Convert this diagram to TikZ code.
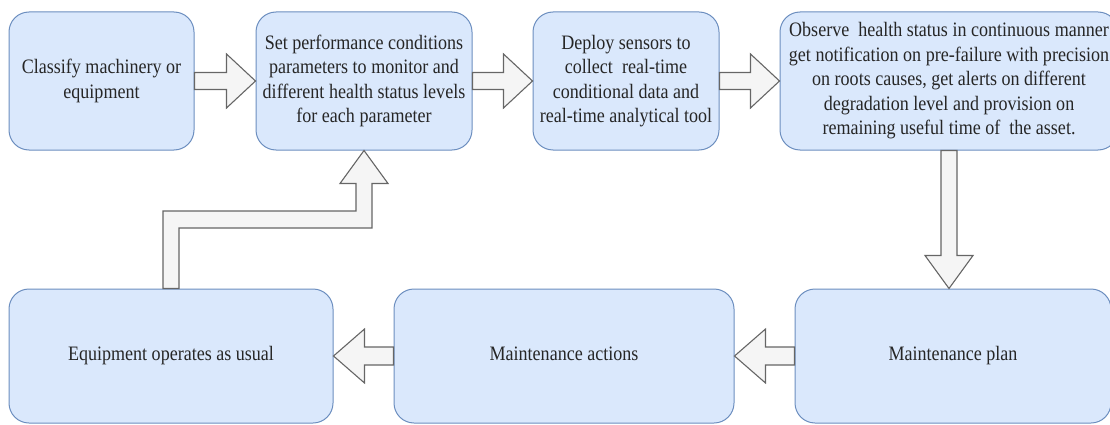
\documentclass[tikz,border=0pt]{standalone}
\usepackage{fontspec}
\setmainfont{Liberation Serif}
\usetikzlibrary{calc}
\definecolor{boxfill}{HTML}{DAE8FC}
\definecolor{boxline}{HTML}{6C8EBF}
\definecolor{arrfill}{HTML}{F5F5F5}
\definecolor{arrline}{HTML}{666666}
\definecolor{txt}{HTML}{262626}
% narrow, centred block of lines for the box labels
\newcommand{\narrowlines}[1]{\scalebox{0.88}[1]{\begin{tabular}{@{}c@{}}#1\end{tabular}}}
% block arrow pointing right, from the east side of #1 to the west side of #2
\newcommand{\rightblock}[2]{%
  \draw[blockarrow] ($(#1.east)+(0,-8.5)$) -- ($(#2.west)+(-29,-8.5)$)
    -- ($(#2.west)+(-29,-27)$) -- (#2.west) -- ($(#2.west)+(-29,27)$)
    -- ($(#2.west)+(-29,8.5)$) -- ($(#1.east)+(0,8.5)$) -- cycle;}
% block arrow pointing left, from the west side of #1 to the east side of #2
\newcommand{\leftblock}[2]{%
  \draw[blockarrow] ($(#1.west)+(0,-9)$) -- ($(#2.east)+(31,-9)$)
    -- ($(#2.east)+(31,-27)$) -- (#2.east) -- ($(#2.east)+(31,27)$)
    -- ($(#2.east)+(31,9)$) -- ($(#1.west)+(0,9)$) -- cycle;}
\begin{document}
\begin{tikzpicture}[x=1pt,y=-1pt,
  stage/.style={draw=boxline, fill=boxfill, line width=1pt, rounded corners=20pt,
    inner sep=0pt, align=center, text=txt,
    font=\fontsize{20.5}{24.5}\selectfont},
  blockarrow/.style={draw=arrline, fill=arrfill, line width=1.1pt, line join=miter}]
\useasboundingbox (0,0) rectangle (1110,425);
\clip (0,0) rectangle (1110,425);

% top row
\node[stage, minimum width=185pt, minimum height=138pt] (b1) at (101.5,81)
  {\narrowlines{Classify machinery or\\equipment}};
\node[stage, minimum width=216pt, minimum height=138pt] (b2) at (364,81)
  {\narrowlines{Set performance conditions\\parameters to monitor and\\different health status levels\\for each parameter}};
\node[stage, minimum width=186pt, minimum height=138pt] (b3) at (626,81)
  {\narrowlines{Deploy sensors to\\collect\ \ real-time\\conditional data and\\real-time analytical tool}};
\node[stage, minimum width=338pt, minimum height=138pt] (b4) at (949,81)
  {\narrowlines{Observe\ \ health status in continuous manner\\get notification on pre-failure with precision\\on roots causes, get alerts on different\\degradation level and provision on\\remaining useful time of\ \ the asset.}};

% bottom row
\node[stage, minimum width=316pt, minimum height=134pt] (b5) at (953,356)
  {\narrowlines{Maintenance plan}};
\node[stage, minimum width=340pt, minimum height=134pt] (b6) at (564,356)
  {\narrowlines{Maintenance actions}};
\node[stage, minimum width=324pt, minimum height=134pt] (b7) at (171,356)
  {\narrowlines{Equipment operates as usual}};

% flow along the top row
\rightblock{b1}{b2}
\rightblock{b2}{b3}
\rightblock{b3}{b4}

% down to the maintenance plan
\draw[blockarrow] ($(b4.south)+(-8,0)$) -- ($(b4.south |- b5.north)+(-8,-33)$)
  -- ($(b4.south |- b5.north)+(-24,-33)$) -- (b4.south |- b5.north)
  -- ($(b4.south |- b5.north)+(24,-33)$) -- ($(b4.south |- b5.north)+(8,-33)$)
  -- ($(b4.south)+(8,0)$) -- cycle;

% flow along the bottom row
\leftblock{b5}{b6}
\leftblock{b6}{b7}

% loop back up to the parameter settings
\coordinate (bend) at (0,219.5);
\draw[blockarrow] ($(b7.north)+(-8,0)$) -- ($(b7.north |- bend)+(-8,-8.5)$)
  -- ($(b2.south |- bend)+(-8,-8.5)$) -- ($(b2.south)+(-8,33)$)
  -- ($(b2.south)+(-24,33)$) -- (b2.south) -- ($(b2.south)+(24,33)$)
  -- ($(b2.south)+(8,33)$) -- ($(b2.south |- bend)+(8,8.5)$)
  -- ($(b7.north |- bend)+(8,8.5)$) -- ($(b7.north)+(8,0)$) -- cycle;
\end{tikzpicture}
\end{document}
